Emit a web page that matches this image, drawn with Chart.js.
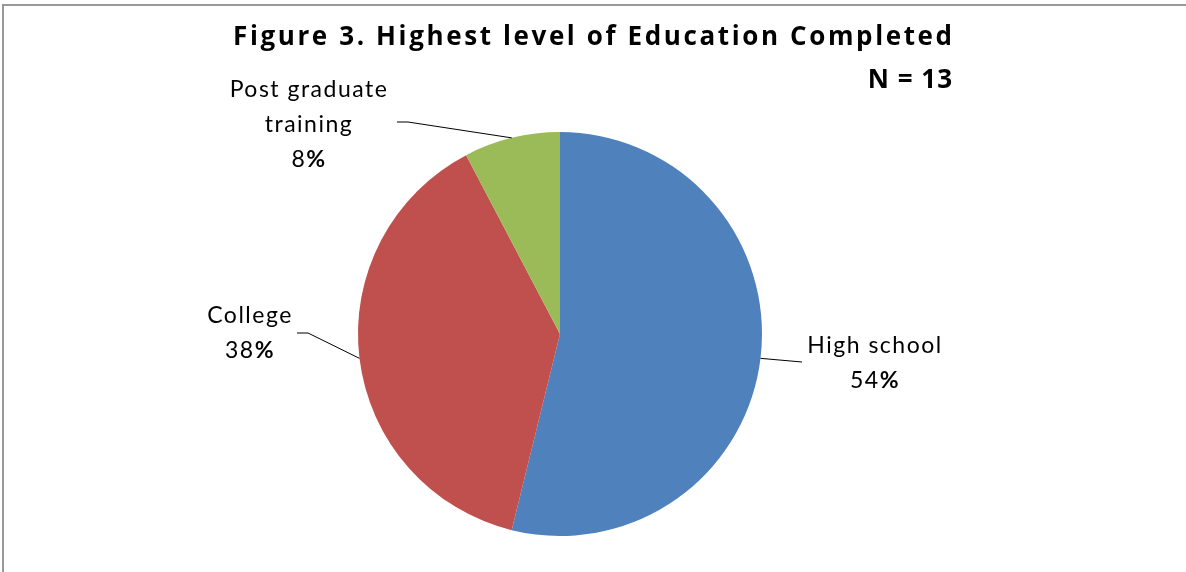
<!DOCTYPE html>
<html>
<head>
<meta charset="utf-8">
<script src="https://cdn.jsdelivr.net/npm/chart.js@4.4.1/dist/chart.umd.min.js"></script>
<style>
  html, body { margin: 0; padding: 0; background: #fff; }
  #wrap { position: relative; width: 1186px; height: 572px; }
  #frame { position: absolute; left: 2px; top: 4px; right: 0; bottom: 0; border-top: 2px solid #999; border-left: 2px solid #999; }
</style>
</head>
<body>
<div id="wrap">
  <div id="frame"></div>
  <canvas id="eduPie" width="1186" height="572" style="position:absolute;left:0;top:0"></canvas>
</div>
<script>
const categories = ['High school', 'College', 'Post graduate training'];
const counts = [7, 5, 1];
const sampleSize = 13;
const sliceColors = ['#4F81BD', '#C0504D', '#9BBB59'];

// where each data label sits (text centre x, first baseline y, elbow of leader)
const labelLayout = [
  { lines: ['High school'], x: 875, y: 353, elbow: [802, 362], tail: null },
  { lines: ['College'], x: 250, y: 323, elbow: [308, 333], tail: [297, 333] },
  { lines: ['Post graduate', 'training'], x: 309, y: 97, elbow: [408, 122], tail: [397, 122] }
];

const labelFont = '23px Lato';
const labelBold = 'bold 23px Lato';

const titlePlugin = {
  id: 'titleText',
  afterDraw(chart) {
    const ctx = chart.ctx;
    ctx.save();
    ctx.fillStyle = '#000';
    ctx.textAlign = 'right';
    ctx.textBaseline = 'alphabetic';
    ctx.font = 'bold 26px "Open Sans"';
    const t = 'Figure 3. Highest level of Education Completed';
    const w = ctx.measureText(t).width;
    const sp = (719 - w) / (t.length - 1);
    ctx.letterSpacing = sp + 'px';
    ctx.fillText(t, 952 + sp, 45);
    ctx.letterSpacing = '1px';
    ctx.fillText('N = ' + sampleSize, 953, 88);
    ctx.restore();
  }
};

const labelPlugin = {
  id: 'sliceLabels',
  afterDatasetsDraw(chart) {
    const ctx = chart.ctx;
    const meta = chart.getDatasetMeta(0);
    const data = chart.data.datasets[0].data;
    const total = data.reduce((a, b) => a + b, 0);
    ctx.save();
    meta.data.forEach((arc, i) => {
      const lay = labelLayout[i];
      const mid = (arc.startAngle + arc.endAngle) / 2;
      const ax = arc.x + Math.cos(mid) * arc.outerRadius;
      const ay = arc.y + Math.sin(mid) * arc.outerRadius;

      // leader line
      ctx.strokeStyle = '#000';
      ctx.lineWidth = 1;
      ctx.beginPath();
      ctx.moveTo(ax, ay);
      ctx.lineTo(lay.elbow[0], lay.elbow[1]);
      if (lay.tail) ctx.lineTo(lay.tail[0], lay.tail[1]);
      ctx.stroke();

      // text
      ctx.fillStyle = '#000';
      ctx.textBaseline = 'alphabetic';
      ctx.textAlign = 'center';
      ctx.font = labelFont;
      ctx.letterSpacing = '1.5px';
      let y = lay.y;
      lay.lines.forEach(l => { ctx.fillText(l, lay.x, y); y += 35; });

      const num = String(Math.round(data[i] / total * 100));
      const nw = ctx.measureText(num).width;
      ctx.font = labelBold;
      const pw = ctx.measureText('%').width;
      const left = lay.x - (nw + pw) / 2;
      ctx.textAlign = 'left';
      ctx.font = labelFont;
      ctx.fillText(num, left, y);
      ctx.font = labelBold;
      ctx.fillText('%', left + nw, y);
    });
    ctx.restore();
  }
};

new Chart(document.getElementById('eduPie'), {
  type: 'pie',
  data: {
    labels: categories,
    datasets: [{
      data: counts,
      backgroundColor: sliceColors,
      borderWidth: 0
    }]
  },
  options: {
    responsive: false,
    animation: false,
    layout: {
      padding: { top: 132, bottom: 36, left: 358, right: 424 }
    },
    plugins: {
      legend: { display: false },
      title: { display: false },
      tooltip: { enabled: false }
    }
  },
  plugins: [titlePlugin, labelPlugin]
});
</script>
</body>
</html>
